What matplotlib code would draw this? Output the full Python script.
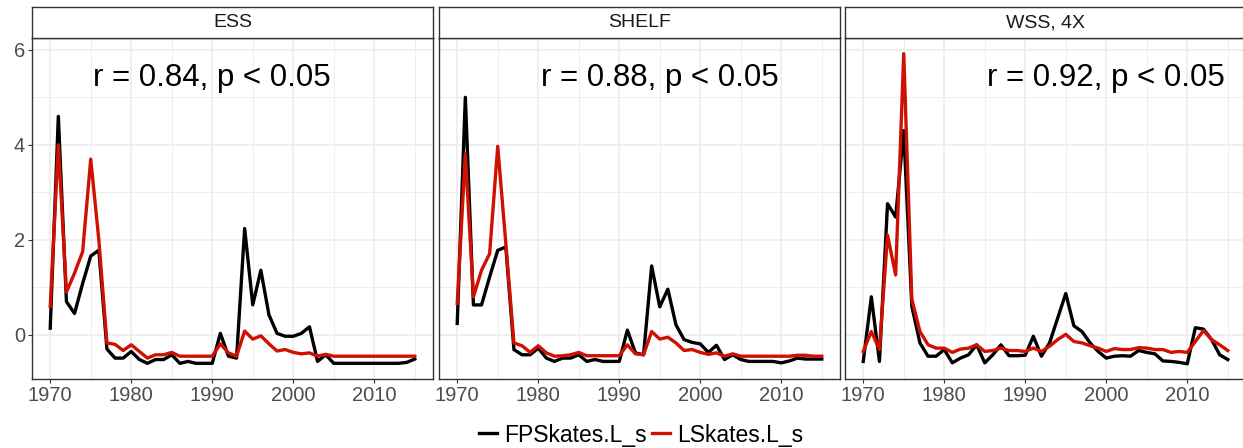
import matplotlib
matplotlib.use("Agg")
import matplotlib.pyplot as plt
from matplotlib.lines import Line2D

plt.rcParams["font.family"] = ["Liberation Sans", "DejaVu Sans"]

# ── Data ────────────────────────────────────────────────────────────
years = list(range(1970, 2016))

panels = ["ESS", "SHELF", "WSS, 4X"]
r_labels = ["r = 0.84, p < 0.05", "r = 0.88, p < 0.05", "r = 0.92, p < 0.05"]
label_x = [1990, 1995, 2000]

fp_ess = [0.14, 4.6, 0.7, 0.45, 1.08, 1.66, 1.78, -0.3, -0.49, -0.49,
          -0.35, -0.52, -0.6, -0.52, -0.52, -0.42, -0.6, -0.56, -0.6, -0.6,
          -0.6, 0.03, -0.45, -0.49, 2.24, 0.63, 1.36, 0.42, 0.03, -0.03,
          -0.03, 0.03, 0.17, -0.56, -0.42, -0.6, -0.6, -0.6, -0.6, -0.6,
          -0.6, -0.6, -0.6, -0.6, -0.58, -0.51]
ls_ess = [0.6, 4.0, 0.9, 1.3, 1.75, 3.7, 2.0, -0.17, -0.2, -0.33,
          -0.21, -0.35, -0.49, -0.42, -0.42, -0.37, -0.45, -0.45, -0.45, -0.45,
          -0.45, -0.19, -0.38, -0.45, 0.08, -0.09, -0.02, -0.19, -0.34, -0.31,
          -0.37, -0.4, -0.38, -0.45, -0.41, -0.45, -0.45, -0.45, -0.45, -0.45,
          -0.45, -0.45, -0.45, -0.45, -0.45, -0.45]

fp_shelf = [0.24, 5.0, 0.63, 0.63, 1.22, 1.78, 1.85, -0.31, -0.42, -0.42,
            -0.28, -0.49, -0.56, -0.49, -0.49, -0.42, -0.56, -0.52, -0.56, -0.56,
            -0.56, 0.1, -0.38, -0.42, 1.45, 0.59, 0.96, 0.21, -0.1, -0.16,
            -0.19, -0.37, -0.22, -0.52, -0.42, -0.52, -0.56, -0.56, -0.56, -0.56,
            -0.59, -0.55, -0.49, -0.51, -0.51, -0.51]
ls_shelf = [0.66, 3.81, 0.8, 1.36, 1.71, 3.97, 1.92, -0.17, -0.23, -0.37,
            -0.23, -0.38, -0.45, -0.44, -0.42, -0.37, -0.44, -0.44, -0.44, -0.44,
            -0.44, -0.21, -0.4, -0.42, 0.07, -0.09, -0.05, -0.17, -0.33, -0.31,
            -0.37, -0.41, -0.38, -0.45, -0.4, -0.45, -0.45, -0.45, -0.45, -0.45,
            -0.45, -0.45, -0.43, -0.43, -0.45, -0.45]

fp_wss = [-0.56, 0.8, -0.56, 2.76, 2.48, 4.3, 0.6, -0.17, -0.45, -0.45,
          -0.31, -0.59, -0.49, -0.42, -0.21, -0.59, -0.42, -0.21, -0.44, -0.44,
          -0.43, -0.03, -0.45, -0.17, 0.35, 0.87, 0.19, 0.07, -0.17, -0.35,
          -0.49, -0.45, -0.44, -0.45, -0.33, -0.37, -0.4, -0.55, -0.56, -0.58,
          -0.61, 0.15, 0.12, -0.1, -0.42, -0.52]
ls_wss = [-0.35, 0.07, -0.31, 2.1, 1.26, 5.92, 0.75, 0.07, -0.21, -0.28,
          -0.28, -0.37, -0.3, -0.28, -0.21, -0.35, -0.33, -0.28, -0.33, -0.33,
          -0.35, -0.28, -0.35, -0.24, -0.1, 0.01, -0.14, -0.17, -0.23, -0.28,
          -0.35, -0.29, -0.31, -0.31, -0.27, -0.28, -0.31, -0.31, -0.37, -0.35,
          -0.37, -0.14, 0.09, -0.1, -0.21, -0.33]

fp_series = [fp_ess, fp_shelf, fp_wss]
ls_series = [ls_ess, ls_shelf, ls_wss]

# ── Style ───────────────────────────────────────────────────────────
BLACK = "#000000"
RED = "#D01000"
FRAME = "#333333"
GRID = "#EBEBEB"

W, H = 1243, 448
fig = plt.figure(figsize=(W / 100, H / 100), dpi=100)

lefts = [32, 439, 845]
pw = 401
top, bottom, strip_top = 38, 379, 7

for i, name in enumerate(panels):
    ax = fig.add_axes([lefts[i] / W, 1 - bottom / H, pw / W, (bottom - top) / H])
    ax.set_xlim(1967.75, 2017.25)
    ax.set_ylim(-0.93, 6.25)

    ax.set_xticks([1970, 1980, 1990, 2000, 2010])
    ax.set_xticks([1975, 1985, 1995, 2005, 2015], minor=True)
    ax.set_yticks([0, 2, 4, 6])
    ax.set_yticks([1, 3, 5], minor=True)
    ax.grid(True, which="major", color=GRID, lw=1.1)
    ax.grid(True, which="minor", color=GRID, lw=0.6)
    ax.set_axisbelow(True)

    ax.plot(years, fp_series[i], color=BLACK, lw=2.4, zorder=3)
    ax.plot(years, ls_series[i], color=RED, lw=2.4, zorder=4)

    ax.text(label_x[i], 5.4, r_labels[i], ha="center", va="center",
            fontsize=22.5, color="black")

    for s in ax.spines.values():
        s.set_color(FRAME)
        s.set_linewidth(1.0)
    ax.tick_params(which="major", length=3, color=FRAME, labelcolor="#4D4D4D",
                   labelsize=14.5, pad=2)
    ax.tick_params(which="minor", length=0)
    if i > 0:
        ax.tick_params(axis="y", which="both", left=False, labelleft=False)

    # facet strip
    sax = fig.add_axes([lefts[i] / W, 1 - top / H, pw / W, (top - strip_top) / H])
    sax.set_xticks([])
    sax.set_yticks([])
    sax.set_facecolor("white")
    for s in sax.spines.values():
        s.set_color(FRAME)
        s.set_linewidth(1.0)
    sax.text(0.5, 0.5, name, ha="center", va="center", fontsize=14,
             color="#1A1A1A", transform=sax.transAxes)

handles = [Line2D([], [], color=BLACK, lw=2.4, label="FPSkates.L_s"),
           Line2D([], [], color=RED, lw=2.4, label="LSkates.L_s")]
fig.legend(handles=handles, loc="center", bbox_to_anchor=(641 / W, 1 - 435 / H),
           ncol=2, frameon=False, fontsize=16.5, handlelength=0.8,
           handletextpad=0.3, columnspacing=0.2)

fig.savefig("out.png", dpi=100)
